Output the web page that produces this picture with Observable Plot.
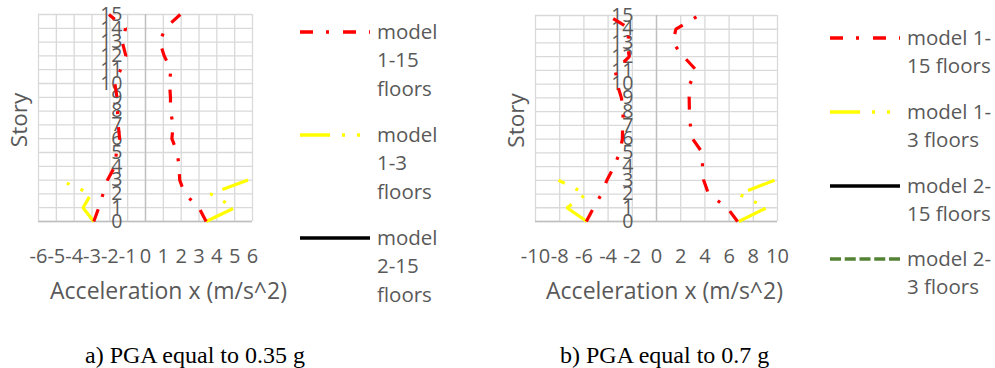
<!DOCTYPE html>
<html>
<head>
<meta charset="utf-8">
<script src="https://cdn.jsdelivr.net/npm/d3@7"></script>
<script src="https://cdn.jsdelivr.net/npm/@observablehq/plot@0.6"></script>
<style>
  html, body { margin: 0; padding: 0; background: #fff; }
  #root { position: relative; width: 995px; height: 368px; overflow: hidden; background: #fff; font-family: "Open Sans", sans-serif; color: #595959; }
  .panel { position: absolute; top: 0; }
  .legend { position: absolute; font-size: 20.5px; line-height: 28.8px; color: #595959; white-space: nowrap; }
  .lgline { position: absolute; }
  .caption { position: absolute; font-family: "Liberation Serif", "Times New Roman", serif; font-size: 24px; line-height: 26px; color: #000; white-space: nowrap; }
</style>
</head>
<body>
<div id="root"></div>
<script>
// ---------- data ----------
const stories = [0,1,2,3,4,5,6,7,8,9,10,11,12,13,14,15];
const storiesLow = [0,1,2,3];

// Panel a) PGA 0.35 g
const a_model115_min = [-2.9, -2.62, -2.38, -2.13, -1.72, -1.63, -1.45, -1.53, -1.57, -1.6, -1.72, -1.4, -1.1, -1.3, -1.12, -2.05];
const a_model115_max = [3.4, 3.0, 2.2, 1.92, 1.88, 1.78, 1.48, 1.55, 1.4, 1.4, 1.35, 1.42, 1.05, 0.8, 1.1, 1.95];
const a_model13_min = [-2.9, -3.5, -3.05, -4.8];
const a_model13_max = [3.4, 5.0, 3.65, 5.75];

// Panel b) PGA 0.7 g
const b_model115_min = [-5.8, -5.2, -4.55, -4.1, -3.5, -3.05, -2.82, -2.8, -2.75, -2.9, -3.25, -3.4, -2.25, -2.45, -2.15, -4.0];
const b_model115_max = [6.7, 5.85, 4.3, 3.9, 3.8, 3.8, 3.0, 2.8, 2.72, 2.7, 2.75, 3.3, 2.25, 1.35, 1.6, 3.5];
const b_model13_min = [-5.75, -7.4, -5.8, -8.1];
const b_model13_max = [6.8, 9.1, 6.8, 9.75];

const a_xTicks = [-6,-5,-4,-3,-2,-1,0,1,2,3,4,5,6];
const b_xTicks = [-10,-8,-6,-4,-2,0,2,4,6,8,10];
const yTicks = [0,1,2,3,4,5,6,7,8,9,10,11,12,13,14,15];

const xTitle = "Acceleration x (m/s^2)";
const yTitle = "Story";
const seriesNames = ["model 1-15 floors", "model 1-3 floors", "model 2-15 floors", "model 2-3 floors"];
const captions = ["a) PGA equal to 0.35 g", "b) PGA equal to 0.7 g"];

// ---------- styles ----------
const RED = "#ff0000", YEL = "#ffff00", BLK = "#000000", GRN = "#548235";
const DASH_RED = "13,13,3,14";
const DASH_YEL = "30,12,3,12,3,12";
const DASH_GRN = "11,3.75";
const GRID = "#d9d9d9", AXIS = "#bfbfbf", TXT = "#595959";

function toRows(ys, xs) { return ys.map((s, i) => ({s, x: xs[i]})); }

function panel({xDomain, xTicks, m115min, m115max, m13min, m13max, left, marginLeft, marginRight, marginTop, titleDx}) {
  const W = 300, H = 310;
  const lineOpts = {x: "x", y: "s", strokeWidth: 3.2, strokeLinecap: "butt", strokeLinejoin: "miter"};
  const svg = Plot.plot({
    width: W, height: H,
    marginLeft, marginRight, marginTop, marginBottom: H - 221,
    x: {domain: xDomain, axis: null},
    y: {domain: [0, 15], axis: null},
    style: {fontFamily: "'Open Sans', sans-serif", color: TXT, background: "none", overflow: "visible"},
    marks: [
      Plot.gridX(xTicks, {stroke: GRID, strokeOpacity: 1, strokeWidth: 1.3}),
      Plot.gridY(yTicks, {stroke: GRID, strokeOpacity: 1, strokeWidth: 1.3}),
      Plot.ruleX([0], {stroke: AXIS, strokeWidth: 1.4}),
      Plot.ruleY([0], {stroke: AXIS, strokeWidth: 1.4}),
      Plot.text(xTicks, {x: d => d, frameAnchor: "bottom", lineAnchor: "middle", textAnchor: "middle", dy: 35.5, text: d => String(d), fontSize: 20, fill: TXT}),
      Plot.text(yTicks, {x: () => 0, y: d => d, dx: -23, textAnchor: "end", lineAnchor: "middle", text: d => String(d), fontSize: 19.5, fill: TXT}),
      Plot.text([xTitle], {frameAnchor: "bottom", lineAnchor: "middle", textAnchor: "middle", dx: titleDx, dy: 70, fontSize: 23, fill: TXT}),
      Plot.text([yTitle], {frameAnchor: "left", lineAnchor: "middle", textAnchor: "middle", dx: -19, dy: 2, rotate: -90, fontSize: 22.5, fill: TXT}),
      Plot.line(toRows(storiesLow, m13min), {...lineOpts, stroke: YEL, strokeDasharray: DASH_YEL}),
      Plot.line(toRows(storiesLow, m13max), {...lineOpts, stroke: YEL, strokeDasharray: DASH_YEL}),
      Plot.line(toRows(stories, m115min), {...lineOpts, stroke: RED, strokeDasharray: DASH_RED}),
      Plot.line(toRows(stories, m115max), {...lineOpts, stroke: RED, strokeDasharray: DASH_RED})
    ]
  });
  svg.classList.add("panel");
  svg.style.left = left + "px";
  return svg;
}

const root = document.getElementById("root");
root.appendChild(panel({xDomain: [-6, 6], xTicks: a_xTicks, m115min: a_model115_min, m115max: a_model115_max, m13min: a_model13_min, m13max: a_model13_max, left: 0, marginLeft: 38, marginRight: 48, marginTop: 14, titleDx: 23}));
root.appendChild(panel({xDomain: [-10, 10], xTicks: b_xTicks, m115min: b_model115_min, m115max: b_model115_max, m13min: b_model13_min, m13max: b_model13_max, left: 495, marginLeft: 40, marginRight: 18, marginTop: 15, titleDx: 8}));

// ---------- legends ----------
const lgStyles = [
  {stroke: RED, dash: DASH_RED},
  {stroke: YEL, dash: DASH_YEL},
  {stroke: BLK, dash: null},
  {stroke: GRN, dash: DASH_GRN}
];
function legendEntry(x0, lineY, textX, lines, st) {
  const ns = "http://www.w3.org/2000/svg";
  const s = document.createElementNS(ns, "svg");
  s.setAttribute("width", 72); s.setAttribute("height", 8);
  s.setAttribute("class", "lgline");
  s.style.left = x0 + "px"; s.style.top = (lineY - 4) + "px";
  const l = document.createElementNS(ns, "line");
  l.setAttribute("x1", 0); l.setAttribute("x2", 70); l.setAttribute("y1", 4); l.setAttribute("y2", 4);
  l.setAttribute("stroke", st.stroke); l.setAttribute("stroke-width", 3.5);
  if (st.dash) l.setAttribute("stroke-dasharray", st.dash);
  s.appendChild(l);
  root.appendChild(s);
  const d = document.createElement("div");
  d.className = "legend";
  d.style.left = textX + "px"; d.style.top = (lineY - 15.5) + "px";
  d.innerHTML = lines.join("<br>");
  root.appendChild(d);
}
// panel a legend: wraps into three lines
const aLegY = [32, 135, 238];
for (let i = 0; i < 3; i++) {
  const w = seriesNames[i].split(" ");
  legendEntry(300, aLegY[i], 377, [w[0], w[1], w[2]], lgStyles[i]);
}
// panel b legend: two lines each
const bLegY = [38, 112, 186, 259];
for (let i = 0; i < 4; i++) {
  const name = seriesNames[i];
  const cut = name.indexOf("-") + 1;
  legendEntry(830, bLegY[i], 907, [name.slice(0, cut), name.slice(cut).trim()], lgStyles[i]);
}

// ---------- captions ----------
[[85, captions[0]], [560, captions[1]]].forEach(([x, t]) => {
  const c = document.createElement("div");
  c.className = "caption";
  c.style.left = x + "px"; c.style.top = "342px";
  c.textContent = t;
  root.appendChild(c);
});
</script>
</body>
</html>
